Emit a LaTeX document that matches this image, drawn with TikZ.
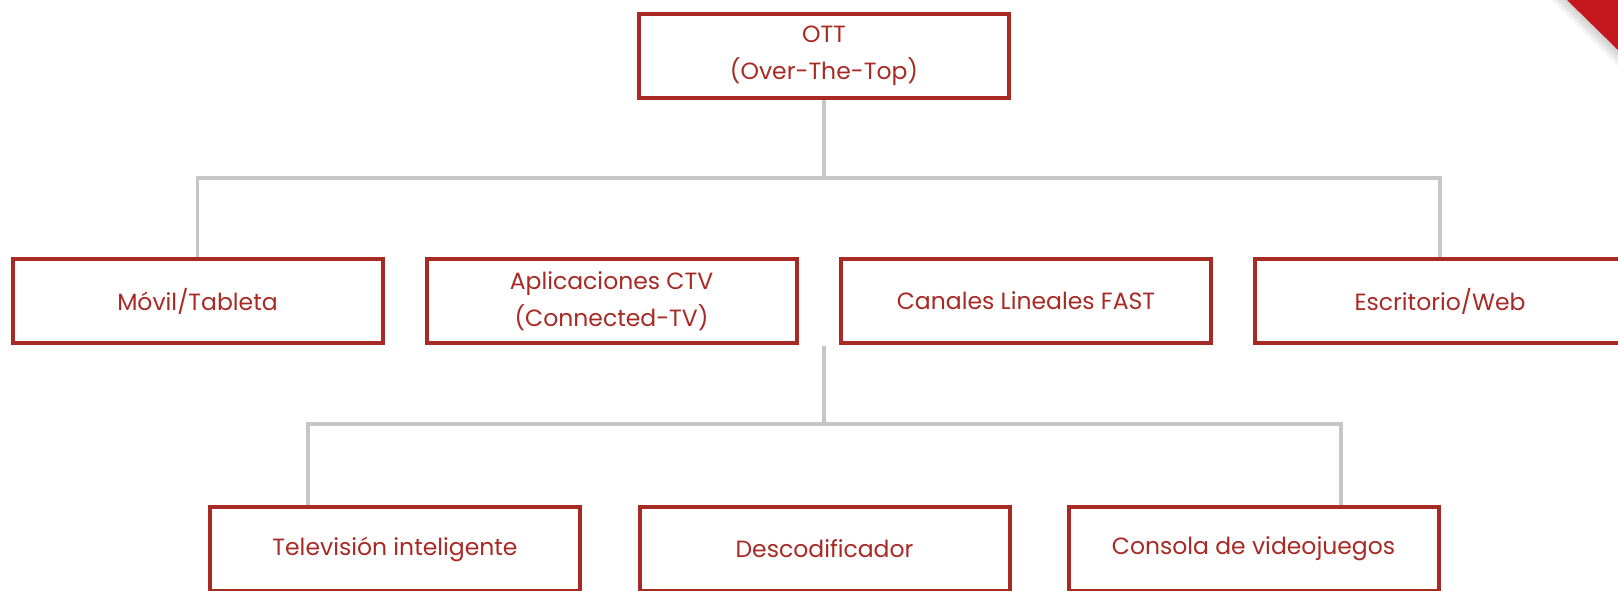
\documentclass[tikz,border=0pt]{standalone}
\usepackage{fontspec}
\setmainfont{Poppins}
\definecolor{ottred}{HTML}{A82A24}
\definecolor{cornerred}{HTML}{C4161C}
\definecolor{linkgray}{HTML}{C6C6C6}
\begin{document}
\begin{tikzpicture}[
    x=1pt,y=-1pt,
    box/.style={
        draw=ottred,
        line width=4pt,
        fill=white,
        minimum width=370pt,
        minimum height=84pt,
        inner sep=0pt,
        align=center,
        text=ottred,
        font=\fontsize{23.5}{37}\selectfont
    },
    link/.style={
        linkgray,
        line width=3.5pt
    },
    shade/.style={
        fill=black,
        opacity=0.025
    }
    ]
    \useasboundingbox (0,0) rectangle (1618,590);
    \foreach \d in {2,4,...,16}
        \fill[shade] (1567-\d,0) -- (1618,51+\d) -- (1618,0) -- cycle;
    \fill[cornerred] (1567,0) -- (1618,0) -- (1618,50) -- cycle;

    \node[box] (ott) at (824,56) {OTT\\(Over-The-Top)};

    \node[box] (movil) at (197.5,301) {Móvil/Tableta};
    \node[box] (ctv) at (611.5,301) {Aplicaciones CTV\\(Connected-TV)};
    \node[box] (fast) at (1026,301) {Canales Lineales FAST};
    \node[box] (web) at (1440,301) {Escritorio/Web};

    \node[box] (smarttv) at (395,549) {Televisión inteligente};
    \node[box] (deco) at (824.5,549) {Descodificador};
    \node[box] (consola) at (1253.5,549) {Consola de videojuegos};

    \coordinate (bus1) at (824,178);
    \coordinate (hub) at (824,346);
    \coordinate (bus2) at (824,424);

    \draw[link] (ott.south) -- (bus1);
    \draw[link] (movil.north) |- (bus1) -| (web.north);
    \draw[link] (hub) -- (bus2);
    \draw[link] (bus2) -| ([xshift=-87pt]smarttv.north);
    \draw[link] (bus2) -| ([xshift=87.5pt]consola.north);
\end{tikzpicture}
\end{document}
